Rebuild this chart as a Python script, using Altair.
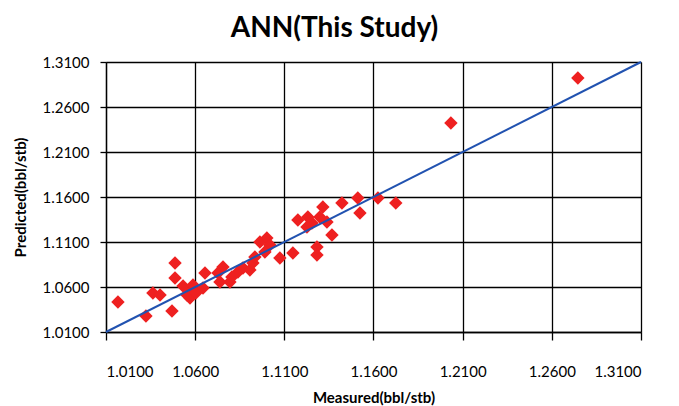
import altair as alt
import pandas as pd

measured = [1.0167, 1.0324, 1.0363, 1.0403, 1.0470, 1.0487, 1.0487, 1.0532, 1.0554, 1.0571,
            1.0582, 1.0604, 1.0588, 1.0644, 1.0655, 1.0728, 1.0739, 1.0756, 1.0795, 1.0806,
            1.0840, 1.0868, 1.0907, 1.0924, 1.0935, 1.0963, 1.1002, 1.1019, 1.0991, 1.1075,
            1.1148, 1.1176, 1.1232, 1.1227, 1.1255, 1.1316, 1.1299, 1.1339, 1.1367, 1.1423,
            1.1512, 1.1524, 1.1625, 1.1725, 1.1283, 1.1283, 1.2034, 1.2746]
predicted = [1.0433, 1.0278, 1.0533, 1.0511, 1.0333, 1.0867, 1.0700, 1.0611, 1.0511, 1.0478,
             1.0567, 1.0533, 1.0622, 1.0589, 1.0756, 1.0756, 1.0656, 1.0822, 1.0656, 1.0711,
             1.0767, 1.0811, 1.0789, 1.0867, 1.0933, 1.1100, 1.1144, 1.1067, 1.0989, 1.0922,
             1.0978, 1.1344, 1.1378, 1.1267, 1.1311, 1.1489, 1.1378, 1.1322, 1.1178, 1.1533,
             1.1589, 1.1422, 1.1589, 1.1533, 1.1044, 1.0956, 1.2422, 1.2922]
line_x = [1.01, 1.31]
line_y = [1.01, 1.31]
ticks = [1.01, 1.06, 1.11, 1.16, 1.21, 1.26, 1.31]

pts = pd.DataFrame({"Measured": measured, "Predicted": predicted})
ln = pd.DataFrame({"Measured": line_x, "Predicted": line_y})

FONT = "Lato"

xscale = alt.Scale(domain=[1.01, 1.31], nice=False, zero=False)
yscale = alt.Scale(domain=[1.01, 1.31], nice=False, zero=False)

xaxis = alt.Axis(values=ticks, format=".4f", title="Measured(bbl/stb)",
                 labelFont=FONT, labelFontSize=15, labelColor="black", labelPadding=24,
                 tickColor="black", tickSize=8, tickWidth=1.3,
                 domainColor="black", domainWidth=1.3,
                 grid=True, gridColor="black", gridOpacity=1, gridWidth=1.3,
                 titleFont=FONT, titleFontSize=15, titleFontWeight="bold", titleColor="black",
                 titlePadding=11)
yaxis = alt.Axis(values=ticks, format=".4f", title="Predicted(bbl/stb)",
                 labelFont=FONT, labelFontSize=15, labelColor="black", labelPadding=11,
                 tickColor="black", tickSize=6, tickWidth=1.3,
                 domainColor="black", domainWidth=1.3,
                 grid=True, gridColor="black", gridOpacity=1, gridWidth=1.3,
                 titleFont=FONT, titleFontSize=15, titleFontWeight="bold", titleColor="black",
                 titlePadding=13)

points = alt.Chart(pts).mark_point(shape="diamond", filled=True, size=180,
                                    color="#ee2020", opacity=1).encode(
    x=alt.X("Measured:Q", scale=xscale, axis=xaxis),
    y=alt.Y("Predicted:Q", scale=yscale, axis=yaxis),
)

line = alt.Chart(ln).mark_line(color="#2152b0", strokeWidth=2).encode(
    x=alt.X("Measured:Q", scale=xscale),
    y=alt.Y("Predicted:Q", scale=yscale),
)

chart = alt.layer(points, line).properties(
    width=535, height=270,
    title=alt.TitleParams("ANN(This Study)", font=FONT, fontSize=28, fontWeight="bold",
                          color="black", anchor="middle", dx=-39, offset=12),
    padding={"left": 98, "top": 54, "right": 30, "bottom": 90},
    autosize=alt.AutoSizeParams(type="none"),
).configure_view(stroke="black", strokeWidth=1.3).configure(background="white")

chart.save("out.html", embed_options={"renderer": "svg", "actions": False})
